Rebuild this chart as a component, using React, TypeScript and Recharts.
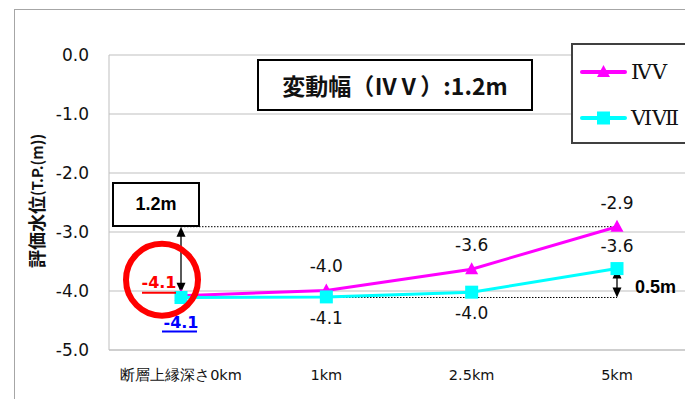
import { LineChart, Line, XAxis, YAxis, CartesianGrid, ReferenceLine, ReferenceDot, LabelList } from 'recharts';

const categories = ['断層上縁深さ0km', '1km', '2.5km', '5km'];
const seriesIVV = [-4.08, -3.99, -3.63, -2.91];
const seriesVIVII = [-4.11, -4.1, -4.02, -3.62];
const yTicks = [0, -1, -2, -3, -4, -5];

// annotation values (m)
const arrow12 = [-2.91, -4.03];
const arrow05 = [-3.62, -4.11];
const circleAt = -3.81;

const data = categories.map((c, i) => ({ cat: c, ivv: seriesIVV[i], vivii: seriesVIVII[i] }));

const MAGENTA = '#ff00ff';
const CYAN = '#00ffff';
const GRID = '#bfbfbf';
const FONT = '"DejaVu Sans", Verdana, sans-serif';

const Triangle = (p: any) => {
  const { cx, cy } = p;
  if (cx == null || cy == null) return null;
  return <polygon points={`${cx},${cy - 7} ${cx + 6.5},${cy + 5} ${cx - 6.5},${cy + 5}`} fill={MAGENTA} />;
};

const Square = (p: any) => {
  const { cx, cy } = p;
  if (cx == null || cy == null) return null;
  return <rect x={cx - 6.5} y={cy - 6.5} width={13} height={13} fill={CYAN} />;
};

const Arrow = (p: any) => {
  const { x1, y1, x2, y2 } = p;
  const top = Math.min(y1, y2);
  const bot = Math.max(y1, y2);
  return (
    <g>
      <line x1={x1} y1={top + 8} x2={x2} y2={bot - 8} stroke="#000" strokeWidth={1.3} />
      <polygon points={`${x1},${top} ${x1 + 4.5},${top + 10} ${x1 - 4.5},${top + 10}`} fill="#000" />
      <polygon points={`${x1},${bot} ${x1 + 4.5},${bot - 10} ${x1 - 4.5},${bot - 10}`} fill="#000" />
    </g>
  );
};

const Circle = (p: any) => (
  <circle cx={p.cx - 19} cy={p.cy} r={36} fill="none" stroke="#ff0000" strokeWidth={6} />
);

const labelIVV = (p: any) => {
  const { x, y, value, index } = p;
  const txt = Number(value).toFixed(1);
  if (index === 0) {
    return (
      <g>
        <text x={x - 22} y={y - 13} textAnchor="middle" dominantBaseline="central" fill="#ff0000" fontSize={16} fontWeight="bold" fontFamily={FONT}>{txt}</text>
        <line x1={x - 39} x2={x - 5} y1={y - 3} y2={y - 3} stroke="#ff0000" strokeWidth={2} />
      </g>
    );
  }
  return <text x={x} y={y - 24} textAnchor="middle" dominantBaseline="central" fill="#111" fontSize={17} fontFamily={FONT}>{txt}</text>;
};

const labelVIVII = (p: any) => {
  const { x, y, value, index } = p;
  const txt = Number(value).toFixed(1);
  if (index === 0) {
    return (
      <g>
        <text x={x} y={y + 25} textAnchor="middle" dominantBaseline="central" fill="#0000ff" fontSize={16} fontWeight="bold" fontFamily={FONT}>{txt}</text>
        <line x1={x - 19} x2={x + 16} y1={y + 34} y2={y + 34} stroke="#0000ff" strokeWidth={2} />
      </g>
    );
  }
  const dy = index === 3 ? -23 : 21;
  return <text x={x} y={y + dy} textAnchor="middle" dominantBaseline="central" fill="#111" fontSize={17} fontFamily={FONT}>{txt}</text>;
};

const YLabel = () => (
  <text transform="translate(36,201) rotate(-90)" textAnchor="middle" dominantBaseline="central" fill="#111" fontWeight="bold" fontFamily={'"Noto Sans CJK JP", sans-serif'}>
    <tspan fontSize={18}>評価水位</tspan>
    <tspan fontSize={15}>(T.P.(m))</tspan>
  </text>
);

const legendItems = [
  { name: 'ⅣⅤ', color: MAGENTA, shape: 'tri' },
  { name: 'ⅥⅦ', color: CYAN, shape: 'sq' },
];

export default function App() {
  return (
    <div style={{ position: 'absolute', left: 0, top: 0, width: 685, height: 399, overflow: 'hidden', background: '#fff' }}>
      <div style={{ position: 'absolute', left: 14, top: 9, width: 800, height: 500, border: '1px solid #a6a6a6' }} />
      <div style={{ position: 'absolute', left: 0, top: 0 }}>
        <LineChart width={700} height={399} data={data} margin={{ top: 55, right: 11, left: 0, bottom: 0 }}>
          <CartesianGrid vertical={false} stroke={GRID} />
          <XAxis dataKey="cat" height={49} padding={{ left: 72, right: 72 }} axisLine={{ stroke: GRID }} tickLine={false} tickSize={0} tickMargin={20}
            tick={{ fontSize: 14.5, fill: '#111', fontFamily: FONT }} interval={0} />
          <YAxis width={109} domain={[-5, 0]} ticks={yTicks} axisLine={{ stroke: GRID }} tickLine={false} tickSize={0} tickMargin={20}
            tickFormatter={(v: number) => v.toFixed(1)} tick={{ fontSize: 17, fill: '#111', fontFamily: FONT }}
            label={<YLabel />} />
          <ReferenceLine segment={[{ x: categories[0], y: seriesIVV[3] }, { x: categories[3], y: seriesIVV[3] }]} stroke="#000" strokeDasharray="1.5 1.5" />
          <ReferenceLine segment={[{ x: categories[0], y: seriesVIVII[0] }, { x: categories[3], y: seriesVIVII[0] }]} stroke="#000" strokeDasharray="1.5 1.5" />
          <Line dataKey="ivv" stroke={MAGENTA} strokeWidth={3} dot={<Triangle />} activeDot={false} isAnimationActive={false}>
            <LabelList dataKey="ivv" content={labelIVV} />
          </Line>
          <Line dataKey="vivii" stroke={CYAN} strokeWidth={3} dot={<Square />} activeDot={false} isAnimationActive={false}>
            <LabelList dataKey="vivii" content={labelVIVII} />
          </Line>
          <ReferenceLine segment={[{ x: categories[0], y: arrow12[0] }, { x: categories[0], y: arrow12[1] }]} shape={<Arrow />} />
          <ReferenceLine segment={[{ x: categories[3], y: arrow05[0] }, { x: categories[3], y: arrow05[1] }]} shape={<Arrow />} />
          <ReferenceDot x={categories[0]} y={circleAt} r={36} shape={<Circle />} />
        </LineChart>
      </div>
      <div style={{ position: 'absolute', left: 257, top: 59, width: 272, height: 48, border: '2px solid #000', background: '#fff',
        display: 'flex', alignItems: 'center', justifyContent: 'center', fontFamily: '"Noto Sans CJK JP", sans-serif', fontWeight: 'bold', fontSize: 23, color: '#111' }}>
        変動幅（ⅣⅤ）:1.2m
      </div>
      <div style={{ position: 'absolute', left: 112, top: 182, width: 84, height: 41, border: '2px solid #000', background: '#fff',
        display: 'flex', alignItems: 'center', justifyContent: 'center', fontFamily: '"Liberation Sans", Arial, sans-serif', fontWeight: 'bold', fontSize: 18, color: '#000' }}>
        1.2m
      </div>
      <div style={{ position: 'absolute', left: 635, top: 276, fontFamily: '"Liberation Sans", Arial, sans-serif', fontWeight: 'bold', fontSize: 18, color: '#000', lineHeight: '22px' }}>
        0.5m
      </div>
      <div style={{ position: 'absolute', left: 571, top: 43, width: 200, height: 97, border: '2px solid #404040', background: '#fff' }}>
        {legendItems.map((it, i) => (
          <div key={it.name} style={{ position: 'absolute', left: 7, top: 14 + i * 46, display: 'flex', alignItems: 'center', height: 26 }}>
            <svg width={47} height={20}>
              <line x1={2} x2={45} y1={10} y2={10} stroke={it.color} strokeWidth={4} strokeLinecap="round" />
              {it.shape === 'tri'
                ? <polygon points="23.5,3 30,15 17,15" fill={it.color} />
                : <rect x={17} y={3.5} width={13} height={13} fill={it.color} />}
            </svg>
            <span style={{ marginLeft: 4, fontFamily: '"DejaVu Serif", "Liberation Serif", serif', fontSize: 21, color: '#111' }}>{it.name}</span>
          </div>
        ))}
      </div>
    </div>
  );
}
